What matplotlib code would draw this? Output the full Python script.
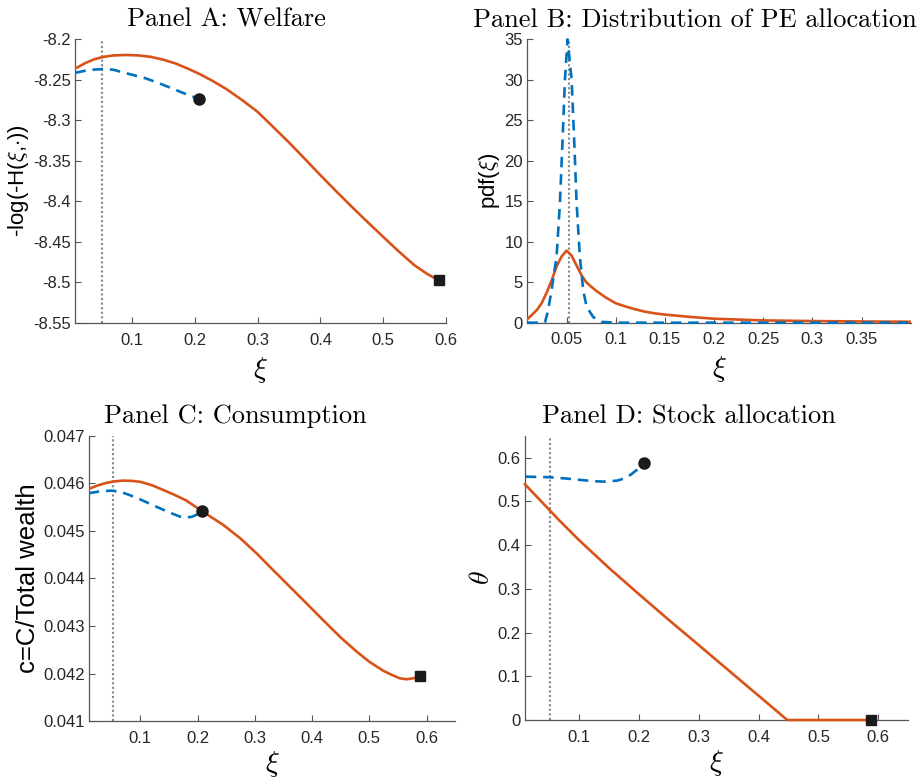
import numpy as np
import matplotlib
matplotlib.use("Agg")
import matplotlib.pyplot as plt
from matplotlib.ticker import FuncFormatter

plt.rcParams["font.family"] = ["Liberation Sans", "DejaVu Sans"]
plt.rcParams["mathtext.fontset"] = "cm"
plt.rcParams["axes.unicode_minus"] = False

RED = "#D95319"
BLUE = "#0072BD"
XI_BAR = 0.0525  # vertical reference line

# Panel A: welfare
welfare_x = [0.01, 0.025, 0.04, 0.055, 0.07, 0.09, 0.11, 0.13, 0.15, 0.17, 0.19, 0.21,
             0.23, 0.25, 0.275, 0.3, 0.325, 0.35, 0.375, 0.4, 0.425, 0.45, 0.475, 0.5,
             0.525, 0.55, 0.57, 0.5885]
welfare_y = [-8.2365, -8.2300, -8.2250, -8.2220, -8.2203, -8.2197, -8.2202, -8.2220,
             -8.2255, -8.2303, -8.2368, -8.2440, -8.2523, -8.2615, -8.2750, -8.2897,
             -8.3085, -8.3275, -8.3475, -8.3678, -8.3875, -8.4068, -8.4255, -8.4439,
             -8.4620, -8.4790, -8.4895, -8.4975]
welfare_pe_x = [0.01, 0.025, 0.04, 0.055, 0.07, 0.09, 0.105, 0.12, 0.14, 0.16, 0.18,
                0.195, 0.2074]
welfare_pe_y = [-8.2416, -8.2392, -8.2377, -8.2370, -8.2378, -8.2420, -8.2450, -8.2480,
                -8.2535, -8.2597, -8.2660, -8.2705, -8.2735]

# Panel B: distribution of PE allocation
pdf_x = [0.01, 0.015, 0.02, 0.0246, 0.03, 0.035, 0.04, 0.045, 0.05, 0.055, 0.06, 0.065,
         0.07, 0.075, 0.08, 0.09, 0.1, 0.11, 0.12, 0.13, 0.14, 0.15, 0.175, 0.2, 0.25,
         0.3, 0.35, 0.4]
pdf_y = [0.42, 1.0, 1.6, 2.4, 3.8, 5.3, 7.0, 8.2, 8.9, 8.3, 7.1, 5.9, 5.0, 4.45, 3.95,
         3.1, 2.4, 2.0, 1.65, 1.35, 1.15, 1.0, 0.72, 0.49, 0.28, 0.2, 0.15, 0.12]
pdf_pe_x = [0.01, 0.0279, 0.031, 0.0347, 0.0398, 0.0432, 0.0459, 0.0483, 0.051, 0.0551,
            0.0577, 0.0602, 0.0635, 0.0669, 0.0703, 0.077, 0.0856, 0.10, 0.40]
pdf_pe_y = [0, 0, 1.4, 4.0, 8.15, 14.7, 22.6, 30, 35, 30, 22.6, 14.7, 8.15, 4.0, 2.0,
            0.7, 0.1, 0, 0]

# Panel C: consumption
cons_x = [0.01, 0.025, 0.04, 0.055, 0.07, 0.085, 0.1, 0.12, 0.14, 0.16, 0.18,
          0.2075, 0.225, 0.245, 0.275, 0.303, 0.33, 0.361, 0.39, 0.419, 0.45, 0.478,
          0.5, 0.524, 0.54, 0.553, 0.565, 0.578, 0.5885]
cons_y = [0.04588, 0.04595, 0.046005, 0.04604, 0.046055, 0.04605, 0.04603, 0.04596,
          0.04586, 0.045755, 0.04564, 0.045418, 0.04528, 0.045124, 0.04484,
          0.044529, 0.04420, 0.043828, 0.04348, 0.043128, 0.04276, 0.042462, 0.04225,
          0.042063, 0.04197, 0.041903, 0.041882, 0.041905, 0.04195]
cons_pe_x = [0.01, 0.03, 0.05, 0.065, 0.081, 0.1, 0.128, 0.15, 0.169, 0.18, 0.19,
             0.2007, 0.2075]
cons_pe_y = [0.04579, 0.04583, 0.045845, 0.04582, 0.045754, 0.04566, 0.045508, 0.04539,
             0.0453, 0.045282, 0.045295, 0.04535, 0.045418]

# Panel D: stock allocation
theta_x = [0.01, 0.0667, 0.1, 0.15, 0.2, 0.25, 0.3, 0.35, 0.4, 0.448, 0.5885]
theta_y = [0.539, 0.4573, 0.4116, 0.348, 0.288, 0.229, 0.1715, 0.1135, 0.0556, 0.0, 0.0]
theta_pe_x = [0.0112, 0.0528, 0.08, 0.103, 0.125, 0.1417, 0.164, 0.175, 0.186, 0.197,
              0.2083]
theta_pe_y = [0.5564, 0.555, 0.552, 0.5488, 0.546, 0.545, 0.5473, 0.552, 0.5603, 0.572,
              0.5884]

fig = plt.figure(figsize=(9.21, 7.8), dpi=100)
axA = fig.add_axes([0.0818, 0.5859, 0.4025, 0.3641])
axB = fig.add_axes([0.5725, 0.5863, 0.4163, 0.3633])
axC = fig.add_axes([0.0963, 0.0753, 0.3980, 0.3662])
axD = fig.add_axes([0.5700, 0.0769, 0.4162, 0.3645])

fmt = FuncFormatter(lambda v, p: f"{v:g}")


def style(ax, title, title_x, ylabel, xlim, ylim, xticks, yticks, ylabel_size=16,
          xlabel_pad=5):
    ax.set_xlim(xlim)
    ax.set_ylim(ylim)
    ax.set_xticks(xticks)
    ax.set_yticks(yticks)
    ax.xaxis.set_major_formatter(fmt)
    ax.yaxis.set_major_formatter(fmt)
    for s in ("top", "right"):
        ax.spines[s].set_visible(False)
    for s in ("left", "bottom"):
        ax.spines[s].set_color("#555555")
        ax.spines[s].set_linewidth(0.9)
    ax.tick_params(direction="in", length=4, width=0.8, color="#555555",
                   labelsize=12, labelcolor="#262626")
    ax.tick_params(axis="x", pad=7)
    ax.tick_params(axis="y", pad=3)
    ax.set_title(title, fontsize=19, family="cmr10", x=title_x, pad=9)
    ax.set_xlabel(r"$\xi$", fontsize=21, labelpad=xlabel_pad)
    ax.set_ylabel(ylabel, fontsize=ylabel_size, labelpad=2)
    ax.axvline(XI_BAR, color="#888888", lw=1.5, ls=(0, (1, 1.2)), zorder=1)


style(axA, "Panel A: Welfare", 0.408, r"-log(-H($\xi$,$\cdot$))", (0.01, 0.6),
      (-8.55, -8.2), np.arange(0.1, 0.61, 0.1), np.arange(-8.55, -8.19, 0.05))
axA.plot(welfare_x, welfare_y, color=RED, lw=1.9, zorder=3)
axA.plot(welfare_pe_x, welfare_pe_y, color=BLUE, lw=1.9, dashes=(4, 2.6), zorder=3)
axA.plot(welfare_pe_x[-1], welfare_pe_y[-1], "o", color="#1a1a1a", ms=8, zorder=4)
axA.plot(welfare_x[-1], welfare_y[-1], "s", color="#1a1a1a", ms=7, zorder=4)

style(axB, "Panel B: Distribution of PE allocation", 0.436, r"pdf($\xi$)", (0.01, 0.4),
      (0, 35), np.arange(0.05, 0.36, 0.05), np.arange(0, 36, 5))
axB.plot(pdf_x, pdf_y, color=RED, lw=1.9, zorder=3)
axB.plot(pdf_pe_x, pdf_pe_y, color=BLUE, lw=1.9, dashes=(4, 2.6), zorder=3, clip_on=False)

style(axC, "Panel C: Consumption", 0.400, "c=C/Total wealth", (0.01, 0.65),
      (0.041, 0.047), np.arange(0.1, 0.61, 0.1), np.arange(0.041, 0.04701, 0.001),
      ylabel_size=18.5, xlabel_pad=2)
axC.plot(cons_x, cons_y, color=RED, lw=1.9, zorder=3)
axC.plot(cons_pe_x, cons_pe_y, color=BLUE, lw=1.9, dashes=(4, 2.6), zorder=3)
axC.plot(cons_pe_x[-1], cons_pe_y[-1], "o", color="#1a1a1a", ms=8, zorder=4)
axC.plot(cons_x[-1], cons_y[-1], "s", color="#1a1a1a", ms=7, zorder=4)

style(axD, "Panel D: Stock allocation", 0.428, r"$\theta$", (0.01, 0.65), (0, 0.65),
      np.arange(0.1, 0.61, 0.1), np.arange(0, 0.61, 0.1), ylabel_size=20, xlabel_pad=2)
axD.plot(theta_x, theta_y, color=RED, lw=1.9, zorder=3, clip_on=False)
axD.plot(theta_pe_x, theta_pe_y, color=BLUE, lw=1.9, dashes=(4, 2.6), zorder=3)
axD.plot(theta_pe_x[-1], theta_pe_y[-1], "o", color="#1a1a1a", ms=8, zorder=4)
axD.plot(theta_x[-1], theta_y[-1], "s", color="#1a1a1a", ms=7, zorder=4, clip_on=False)

fig.savefig("out.png", dpi=100)
